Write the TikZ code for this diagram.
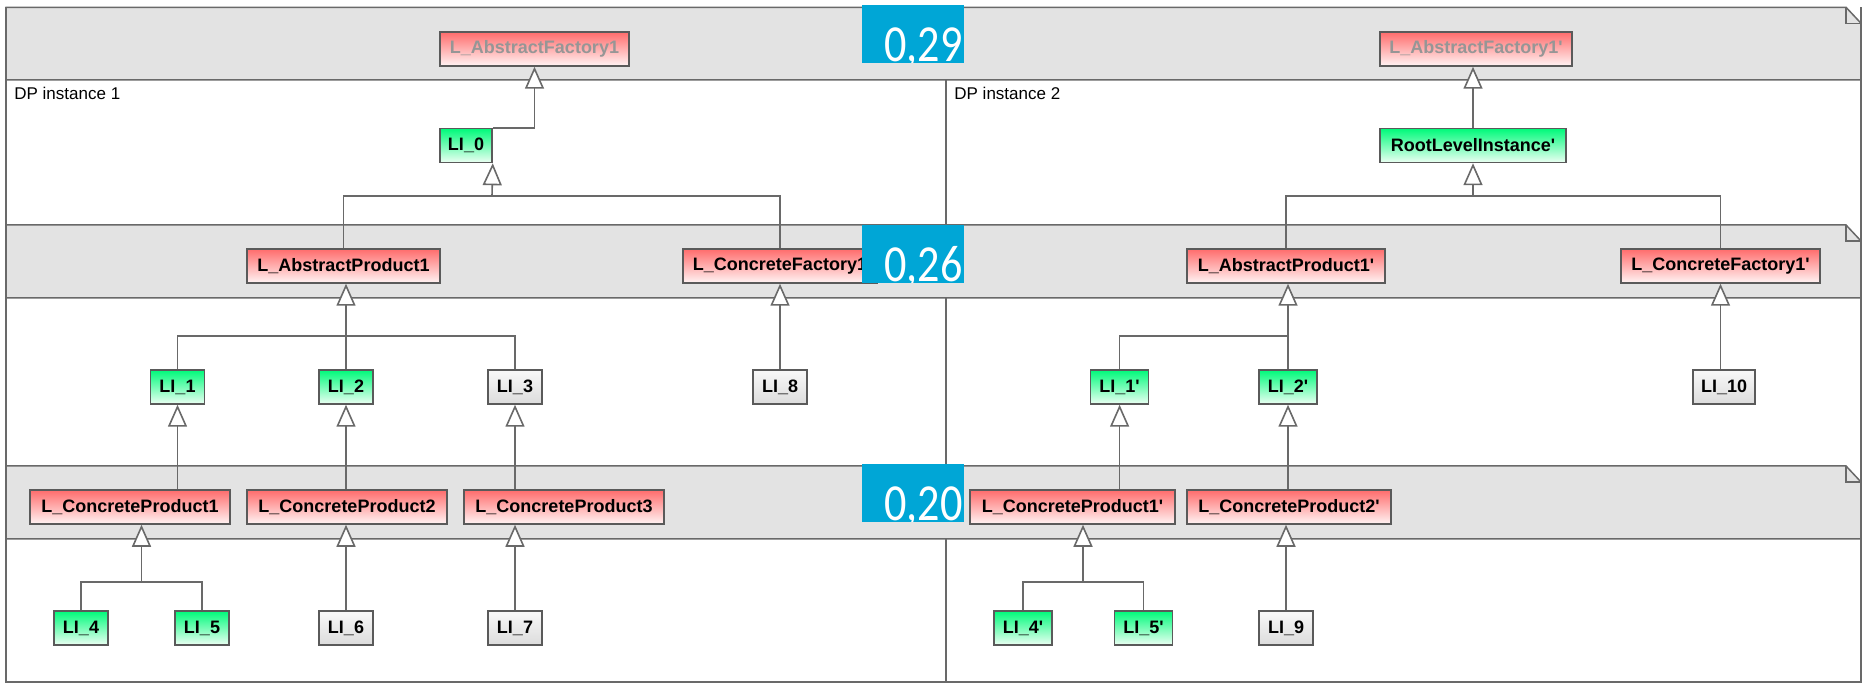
\documentclass[tikz,border=0pt]{standalone}
\usepackage{fontspec}
\setmainfont{Liberation Sans}
\newfontfamily\numfont{Carlito}
\usetikzlibrary{arrows.meta}

\definecolor{bandgray}{RGB}{227,227,227}
\definecolor{frameline}{RGB}{105,105,105}
\definecolor{boxline}{RGB}{90,90,90}
\definecolor{redtop}{RGB}{255,108,108}
\definecolor{redbot}{RGB}{255,244,244}
\definecolor{greentop}{RGB}{0,250,122}
\definecolor{greenbot}{RGB}{236,255,243}
\definecolor{graytop}{RGB}{248,248,248}
\definecolor{graybot}{RGB}{220,220,220}
\definecolor{fadedtext}{RGB}{150,150,150}
\definecolor{valblue}{RGB}{0,166,214}

\newcommand{\pr}{\textquotesingle}

\tikzset{
  cls/.style={draw=boxline, line width=0.75pt, minimum height=17pt,
    inner sep=0pt, font=\bfseries\fontsize{9}{10}\selectfont},
  redcls/.style={cls, top color=redtop, bottom color=redbot},
  greencls/.style={cls, top color=greentop, bottom color=greenbot},
  graycls/.style={cls, top color=graytop, bottom color=graybot},
  faded/.style={text=fadedtext},
  conn/.style={draw=frameline, line width=0.8pt},
  gen/.style={conn, -{Triangle[fill=white, length=11pt, width=9.5pt]}},
  frame/.style={draw=frameline, line width=0.75pt},
  caption/.style={anchor=base west, inner sep=0pt, font=\fontsize{8.5}{10}\selectfont},
  vallabel/.style={anchor=base west, inner sep=0pt, text=white,
    font=\numfont\fontsize{26}{30}\selectfont},
}

\begin{document}
\begin{tikzpicture}[x=0.5pt, y=-0.5pt]
\useasboundingbox (0,0) rectangle (1862,683);
\fill[white] (0,0) rectangle (1862,683);

% ---- layer bands (note shapes with folded corner) ----
\foreach \top/\bot in {7.3/80, 225/298, 466/539} {
  \fill[bandgray] (6,\top) -- (1846,\top) -- (1861,\top+16) -- (1861,\bot) -- (6,\bot) -- cycle;
  \draw[frame] (6,\bot) -- (6,\top) -- (1846,\top) -- (1861,\top+16) -- (1861,\bot) -- (6,\bot);
  \draw[frame] (1846,\top) -- (1846,\top+16) -- (1861,\top+16);
}
% outer sides and bottom
\draw[frame] (6,7.3) -- (6,682) -- (1861,682) -- (1861,7.3);
% divider between the two instances
\draw[frame] (946,80) -- (946,225);
\draw[frame] (946,298) -- (946,466);
\draw[frame] (946,539) -- (946,682);

\node[caption] (dp1) at (14,100) {DP instance 1};
\node[caption] (dp2) at (954,100) {DP instance 2};

% ---- classes ----
\node[redcls, faded, minimum width=94.5pt] (af1) at (534.5,49) {L\_AbstractFactory1};
\node[greencls, minimum width=26pt] (li0) at (466,145.5) {LI\_0};
\node[redcls, faded, minimum width=96pt] (af1p) at (1476,49) {L\_AbstractFactory1\pr};
\node[greencls, minimum width=93pt] (rli) at (1473,145.5) {RootLevelInstance\pr};

\node[redcls, minimum width=96.5pt] (ap1) at (343.5,266) {L\_AbstractProduct1};
\node[redcls, minimum width=97pt] (cf1) at (780,266) {L\_ConcreteFactory1};
\node[redcls, minimum width=99pt] (ap1p) at (1286,266) {L\_AbstractProduct1\pr};
\node[redcls, minimum width=99.5pt] (cf1p) at (1720.5,266) {L\_ConcreteFactory1\pr};

\node[greencls, minimum width=27pt] (li1) at (177.5,387) {LI\_1};
\node[greencls, minimum width=27pt] (li2) at (346,387) {LI\_2};
\node[graycls, minimum width=27pt] (li3) at (515,387) {LI\_3};
\node[graycls, minimum width=27pt] (li8) at (780,387) {LI\_8};
\node[greencls, minimum width=29pt] (li1p) at (1119.6,387) {LI\_1\pr};
\node[greencls, minimum width=29pt] (li2p) at (1288,387) {LI\_2\pr};
\node[graycls, minimum width=31pt] (li10) at (1724,387) {LI\_10};

\node[redcls, minimum width=100pt] (cp1) at (130,507) {L\_ConcreteProduct1};
\node[redcls, minimum width=100pt] (cp2) at (347,507) {L\_ConcreteProduct2};
\node[redcls, minimum width=100pt] (cp3) at (564,507) {L\_ConcreteProduct3};
\node[redcls, minimum width=102.5pt] (cp1p) at (1072.5,507) {L\_ConcreteProduct1\pr};
\node[redcls, minimum width=102pt] (cp2p) at (1289,507) {L\_ConcreteProduct2\pr};

\node[greencls, minimum width=27pt] (li4) at (81,628) {LI\_4};
\node[greencls, minimum width=27pt] (li5) at (202,628) {LI\_5};
\node[graycls, minimum width=27pt] (li6) at (346,628) {LI\_6};
\node[graycls, minimum width=27pt] (li7) at (515,628) {LI\_7};
\node[greencls, minimum width=29pt] (li4p) at (1023,628) {LI\_4\pr};
\node[greencls, minimum width=29pt] (li5p) at (1143.5,628) {LI\_5\pr};
\node[graycls, minimum width=27pt] (li9) at (1286,628) {LI\_9};

% ---- junction points of the generalization trees ----
\coordinate (b0) at (492,196);
\coordinate (b0p) at (1473,196);
\coordinate (b1) at (346,336);
\coordinate (b1p) at (1288,336);
\coordinate (b2) at (141.5,582);
\coordinate (b2p) at (1083,582);

% ---- generalizations, instance 1 ----
\draw[gen] (li0.north east) -| (af1.south);
\draw[conn] (ap1.north) |- (b0) -| (cf1.north);
\draw[gen] (b0) -- (li0.south east);
\draw[conn] (li1.north) |- (b1) -| (li3.north);
\draw[gen] (li2.north) -- (li2.north |- ap1.south);
\draw[gen] (li8.north) -- (cf1.south);
\draw[gen] (cp1.north -| li1.south) -- (li1.south);
\draw[gen] (cp2.north -| li2.south) -- (li2.south);
\draw[gen] (cp3.north -| li3.south) -- (li3.south);
\draw[conn] (li4.north) |- (b2) -| (li5.north);
\draw[gen] (b2) -- (b2 |- cp1.south);
\draw[gen] (li6.north) -- (li6.north |- cp2.south);
\draw[gen] (li7.north) -- (li7.north |- cp3.south);

% ---- generalizations, instance 2 ----
\draw[gen] (rli.north) -- (rli.north |- af1p.south);
\draw[conn] (ap1p.north) |- (b0p) -| (cf1p.north);
\draw[gen] (b0p) -- (rli.south);
\draw[conn] (li1p.north) |- (b1p);
\draw[gen] (li2p.north) -- (li2p.north |- ap1p.south);
\draw[gen] (li10.north -| cf1p.south) -- (cf1p.south);
\draw[gen] (cp1p.north -| li1p.south) -- (li1p.south);
\draw[gen] (cp2p.north -| li2p.south) -- (li2p.south);
\draw[conn] (li4p.north) |- (b2p) -| (li5p.north);
\draw[gen] (b2p) -- (b2p |- cp1p.south);
\draw[gen] (li9.north) -- (li9.north |- cp2p.south);

% ---- per-layer values ----
\foreach \top/\base/\val/\nm in {5/61.5/{0,29}/v1, 225/281.5/{0,26}/v2, 464/521/{0,20}/v3} {
  \begin{scope}
    \clip (862,\top) rectangle (964,\top+58);
    \fill[valblue] (862,\top) rectangle (964,\top+58);
    \node[vallabel] (\nm) at (884,\base) {\scalebox{0.85}[1]{\val}};
  \end{scope}
}
\end{tikzpicture}
\end{document}
